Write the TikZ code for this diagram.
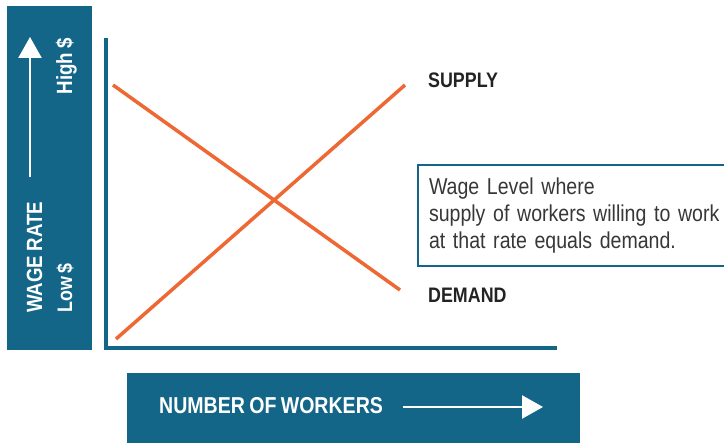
\documentclass[tikz,border=0pt]{standalone}
\usepackage{fontspec}
\setmainfont{Liberation Sans}[FakeStretch=0.85, WordSpace=0.8]
\usetikzlibrary{arrows.meta, positioning}
\definecolor{cTeal}{RGB}{20,102,137}
\definecolor{cOrange}{RGB}{238,104,52}
\definecolor{cInk}{RGB}{35,35,35}
\definecolor{cGrey}{RGB}{55,55,55}

\begin{document}
\begin{tikzpicture}[x=1pt, y=-1pt,
            bar/.style={fill=cTeal, draw=none, inner sep=0pt, anchor=north west},
            lbl/.style={font=\fontsize{21}{21}\selectfont\bfseries, text=cInk, inner sep=0pt, anchor=base west},
            wl/.style={font=\fontsize{22}{22}\selectfont\bfseries, text=white, inner sep=0pt, rotate=90},
            ax/.style={draw=cTeal, line width=3.5pt},
            crv/.style={draw=cOrange, line width=3.5pt},
            wa/.style={draw=white, line width=2.5pt, -{Triangle[length=21pt, width=23pt]}},
            note/.style={draw=cTeal, line width=2pt, fill=white, anchor=north west, align=left,
                         text width=320pt, minimum height=101pt, inner xsep=11pt, text=cGrey,
                         font=\fontsize{23}{27}\selectfont}]
            \useasboundingbox (0,0) rectangle (724,443);
            % wage axis bar
            \node[bar, minimum width=85pt, minimum height=344pt] (ybar) at (7,6) {};
            \node[wl, anchor=base west] (wage) at (42,313) {WAGE RATE};
            \node[wl, font=\fontsize{21}{21}\selectfont\bfseries, anchor=base west] (low) at (72,313) {Low \$};
            \node[wl, anchor=base east] (high) at (72,38) {High \$};
            \coordinate (ya0) at (30,177);
            \coordinate (ya1) at (30,37);
            \draw[wa] (ya0) -- (ya1);
            % workers axis bar
            \node[bar, minimum width=453pt, minimum height=70pt] (xbar) at (127,373) {};
            \node[lbl, text=white, font=\fontsize{23}{23}\selectfont\bfseries] (num) at (159,414) {NUMBER OF WORKERS};
            \coordinate (xa0) at (403,407);
            \coordinate (xa1) at (543,407);
            \draw[wa] (xa0) -- (xa1);
            % axes
            \coordinate (top) at (106,38);
            \coordinate (org) at (106,348);
            \coordinate (xend) at (557,348);
            \draw[ax] (top) -- (org) -- (xend);
            % supply and demand
            \coordinate (s0) at (116,339);
            \coordinate (s1) at (405,85);
            \coordinate (d0) at (113,85);
            \coordinate (d1) at (400,290);
            \draw[crv] (s0) -- (s1);
            \draw[crv] (d0) -- (d1);
            \node[lbl] (sup) at (428,88) {SUPPLY};
            \node[lbl] (dem) at (428,303) {DEMAND};
            \node[note] (eq) at (417,164) {Wage Level where\\supply of workers willing to work\\at that rate equals demand.};
        \end{tikzpicture}
\end{document}
